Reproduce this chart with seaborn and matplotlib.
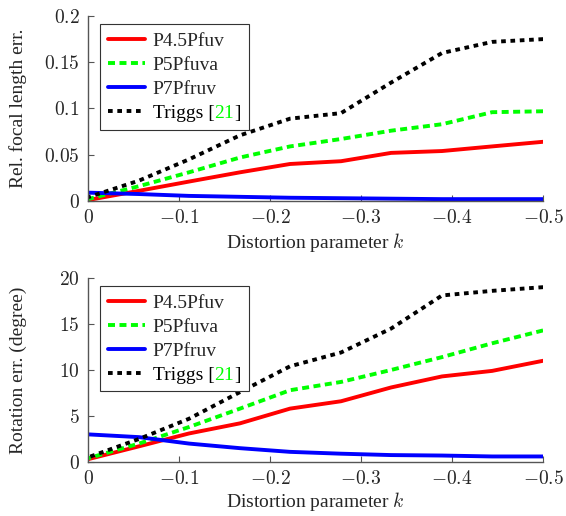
import matplotlib
matplotlib.use("Agg")
import matplotlib.pyplot as plt
import seaborn as sns
from matplotlib.ticker import FuncFormatter
from matplotlib.offsetbox import TextArea, HPacker

# distortion parameter k (x axis)
K = [0, -0.056, -0.111, -0.167, -0.222, -0.278, -0.333, -0.389, -0.444, -0.5]
METHODS = ["P4.5Pfuv", "P5Pfuva", "P7Pfruv", "Triggs [21]"]

# relative focal length error
focal_p45 = [0.001, 0.011, 0.021, 0.031, 0.040, 0.043, 0.052, 0.054, 0.059, 0.064]
focal_p5 = [0.002, 0.016, 0.031, 0.047, 0.059, 0.067, 0.076, 0.083, 0.096, 0.097]
focal_p7 = [0.009, 0.0075, 0.0055, 0.0045, 0.0035, 0.003, 0.0025, 0.002, 0.002, 0.002]
focal_triggs = [0.004, 0.022, 0.045, 0.071, 0.089, 0.095, 0.128, 0.160, 0.172, 0.175]

# rotation error (degree)
rot_p45 = [0.3, 1.7, 3.1, 4.2, 5.8, 6.6, 8.1, 9.3, 9.9, 11.0]
rot_p5 = [0.4, 2.0, 3.8, 5.8, 7.8, 8.7, 10.0, 11.4, 12.9, 14.3]
rot_p7 = [3.0, 2.7, 2.0, 1.5, 1.1, 0.9, 0.75, 0.7, 0.6, 0.6]
rot_triggs = [0.5, 2.5, 4.7, 7.6, 10.4, 11.9, 14.5, 18.1, 18.6, 19.0]

X_TICKS = [0, -0.1, -0.2, -0.3, -0.4, -0.5]
FOCAL_TICKS = [0, 0.05, 0.1, 0.15, 0.2]
ROT_TICKS = [0, 5, 10, 15, 20]

COLORS = ["#ff0000", "#00ff00", "#0000ff", "#000000"]
STYLES = ["-", (0, (1.8, 1.15)), "-", (0, (1.2, 1.2))]
CITE_GREEN = "#00ff00"
AXIS_GRAY = "#555555"

sns.set_theme(style="white")
plt.rcParams["font.family"] = ["Liberation Serif", "DejaVu Serif"]
plt.rcParams["mathtext.fontset"] = "cm"

fig = plt.figure(figsize=(5.66, 5.16), dpi=100)
ax1 = fig.add_axes([0.1555, 0.6105, 0.804, 0.3585])
ax2 = fig.add_axes([0.1555, 0.1047, 0.804, 0.3566])

math_fmt = FuncFormatter(lambda v, _: f"${v:g}$")


def color_citation(leg, idx):
    # swap the plain legend text for "Triggs [" + green "21" + "]"
    txt = leg.texts[idx]
    props = dict(fontsize=txt.get_fontsize(), fontfamily=txt.get_fontfamily())
    for col in leg._legend_handle_box.get_children():
        for row in col.get_children():
            kids = row.get_children()
            if len(kids) == 2 and isinstance(kids[1], TextArea) and kids[1]._text is txt:
                parts = [TextArea(s, textprops=dict(color=c, **props))
                         for s, c in [("Triggs [", "black"), ("21", CITE_GREEN), ("]", "black")]]
                box = HPacker(children=parts, pad=0, sep=0, align="baseline")
                box.set_figure(fig)
                row._children[1] = box


def draw_panel(ax, series, ymax, yticks, ylabel, xlab_y):
    for name, vals, c, ls in zip(METHODS, series, COLORS, STYLES):
        sns.lineplot(x=K, y=vals, ax=ax, color=c, linestyle=ls, linewidth=2.8, label=name)
    ax.set_xlim(0, -0.5)
    ax.set_ylim(0, ymax)
    ax.set_xticks(X_TICKS)
    ax.set_yticks(yticks)
    ax.xaxis.set_major_formatter(math_fmt)
    ax.yaxis.set_major_formatter(math_fmt)
    for s in ["top", "right"]:
        ax.spines[s].set_visible(False)
    for s in ["left", "bottom"]:
        ax.spines[s].set_color(AXIS_GRAY)
        ax.spines[s].set_linewidth(1.0)
    ax.tick_params(direction="in", length=4, width=0.8, color=AXIS_GRAY,
                   labelsize=14, pad=6, left=True, bottom=True)
    ax.set_xlabel("Distortion parameter $k$", fontsize=14)
    ax.set_ylabel(ylabel, fontsize=14)
    ax.xaxis.set_label_coords(0.5, xlab_y)
    ax.yaxis.set_label_coords(-0.135, 0.5)
    handles, labels = ax.get_legend_handles_labels()
    leg = ax.legend(handles, labels, loc="upper left", bbox_to_anchor=(0.027, 0.955),
                    borderaxespad=0, fontsize=14, frameon=True, fancybox=False,
                    framealpha=1, edgecolor="#333333", handlelength=1.9,
                    handletextpad=0.4, labelspacing=0.33, borderpad=0.4)
    leg.get_frame().set_linewidth(0.8)
    color_citation(leg, 3)


draw_panel(ax1, [focal_p45, focal_p5, focal_p7, focal_triggs], 0.2, FOCAL_TICKS,
           "Rel. focal length err.", -0.16)
draw_panel(ax2, [rot_p45, rot_p5, rot_p7, rot_triggs], 20, ROT_TICKS,
           "Rotation err. (degree)", -0.15)

fig.savefig("out.png", dpi=100)
